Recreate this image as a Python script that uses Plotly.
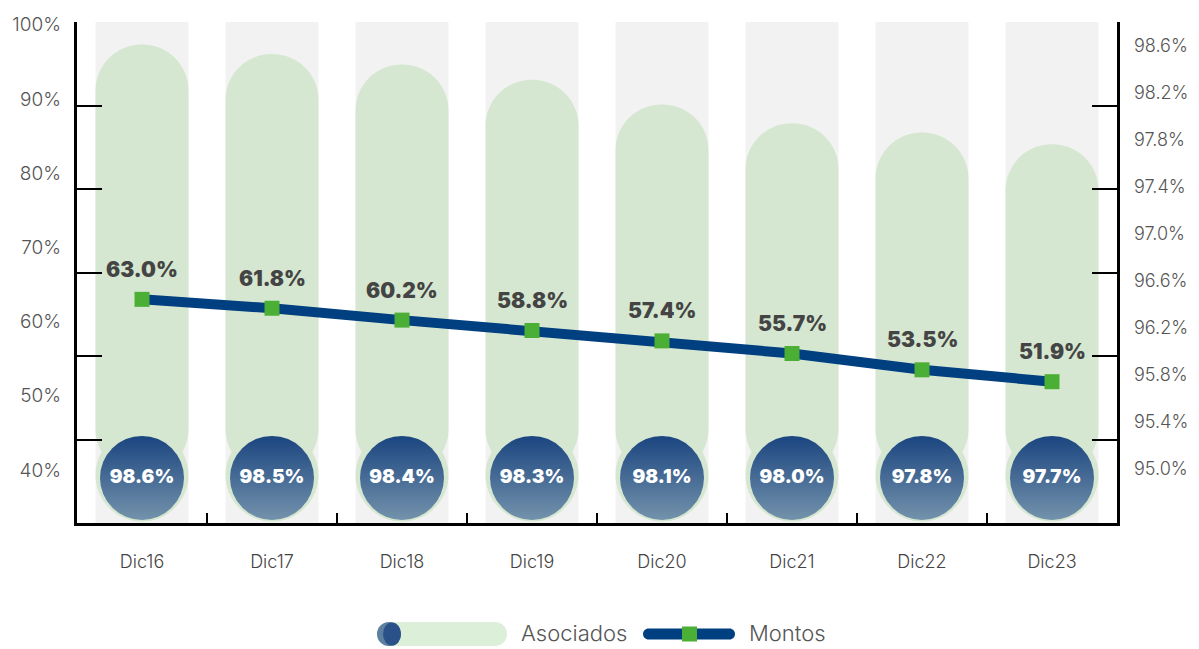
import plotly.graph_objects as go

# ---------------- data ----------------
categories = ["Dic16", "Dic17", "Dic18", "Dic19", "Dic20", "Dic21", "Dic22", "Dic23"]
asociados = [98.61, 98.53, 98.44, 98.31, 98.10, 97.94, 97.86, 97.76]
asociados_labels = ["98.6%", "98.5%", "98.4%", "98.3%", "98.1%", "98.0%", "97.8%", "97.7%"]
montos = [63.0, 61.8, 60.2, 58.8, 57.4, 55.7, 53.5, 51.9]
montos_labels = ["63.0%", "61.8%", "60.2%", "58.8%", "57.4%", "55.7%", "53.5%", "51.9%"]
left_tick_vals = [40, 50, 60, 70, 80, 90, 100]
left_tick_text = ["40%", "50%", "60%", "70%", "80%", "90%", "100%"]
right_tick_vals = [95.0, 95.4, 95.8, 96.2, 96.6, 97.0, 97.4, 97.8, 98.2, 98.6]
right_tick_text = ["95.0%", "95.4%", "95.8%", "96.2%", "96.6%", "97.0%", "97.4%", "97.8%", "98.2%", "98.6%"]

# ---------------- style ----------------
# page body has an 8px margin: figure is sized to fit the 1199x649 window
W, H = 1191, 641
ML, MR, MT, MB = 69, 82, 14, 126
PW, PH = W - ML - MR, H - MT - MB
PAGE_L, PAGE_B = 77, 523   # plot-area left / bottom in page pixels
FONT = "Inter, 'Open Sans', sans-serif"
GRAY_BG = "#f2f2f2"
PILL_GREEN = "#d5e7d0"
LEG_GREEN = "#dcefd9"
NAVY = "#003f80"
MARK_GREEN = "#4caf35"
CIRCLE_TOP = "#1b4580"
CIRCLE_BOTTOM = "#7392ab"
TXT_DARK = "#444444"
TXT_AXIS = "#555555"

DIVS = 6
LEFT_RANGE = [32.857, 100.377]
RIGHT_RANGE = [94.534, 98.802]
PILL_BASE = 94.943
CIRCLE_Y = 94.918
BAR_W = 0.715

def px_x(p):
    return (p - PAGE_L) / PW

def px_y(p):
    return (PAGE_B - p) / PH

fig = go.Figure()

# gray background columns (main axis, full height)
fig.add_trace(go.Bar(
    x=categories, y=[DIVS] * len(categories), base=0, width=BAR_W,
    marker=dict(color=GRAY_BG, line=dict(width=0)),
    yaxis="y", hoverinfo="skip", showlegend=False,
))

# green pills (right axis)
fig.add_trace(go.Bar(
    x=categories, y=[v - PILL_BASE for v in asociados], base=PILL_BASE, width=BAR_W,
    marker=dict(color=PILL_GREEN, line=dict(width=0), cornerradius="50%"),
    yaxis="y2", name="Asociados", showlegend=False, hoverinfo="skip",
))
fig.add_trace(go.Scatter(
    x=categories, y=[PILL_BASE] * len(categories), mode="markers",
    marker=dict(size=93, color=PILL_GREEN, line=dict(width=0)),
    yaxis="y2", showlegend=False, hoverinfo="skip", cliponaxis=False,
))
# gradient circles with labels
fig.add_trace(go.Scatter(
    x=categories, y=[CIRCLE_Y] * len(categories), mode="markers+text",
    marker=dict(size=84, color=CIRCLE_TOP, line=dict(width=0),
                gradient=dict(type="vertical", color=CIRCLE_BOTTOM)),
    text=asociados_labels, textposition="middle center",
    textfont=dict(family=FONT, size=19, color="white", weight=900),
    yaxis="y2", showlegend=False, hoverinfo="skip", cliponaxis=False,
))

# Montos line (left axis)
fig.add_trace(go.Scatter(
    x=categories, y=montos, mode="lines+markers",
    line=dict(color=NAVY, width=10),
    marker=dict(symbol="square", size=15, color=MARK_GREEN, line=dict(width=0)),
    yaxis="y3", name="Montos", showlegend=False, hoverinfo="skip",
))

# dummy trace for right tick axis
fig.add_trace(go.Scatter(x=[categories[0]], y=[None], yaxis="y4",
                         showlegend=False, hoverinfo="skip", mode="markers"))

annotations = []
for c, v, t in zip(categories, montos, montos_labels):
    annotations.append(dict(
        x=c, y=v, xref="x", yref="y3", text=t, showarrow=False, yshift=30,
        font=dict(family=FONT, size=21, color=TXT_DARK, weight=900),
    ))

# custom legend
k = 0.5523
def pill_path(half_len, r):
    a = half_len - r
    kr = k * r
    return (f"M {-a},{-r} L {a},{-r} "
            f"C {a + kr},{-r} {a + r},{-kr} {a + r},0 "
            f"C {a + r},{kr} {a + kr},{r} {a},{r} "
            f"L {-a},{r} "
            f"C {-a - kr},{r} {-a - r},{kr} {-a - r},0 "
            f"C {-a - r},{-kr} {-a - kr},{-r} {-a},{-r} Z")

LEG_Y = 634
shapes = [
    dict(type="path", xref="paper", yref="paper", xsizemode="pixel", ysizemode="pixel",
         xanchor=px_x(442), yanchor=px_y(LEG_Y), path=pill_path(65, 12),
         fillcolor=LEG_GREEN, line=dict(width=0), layer="above"),
    dict(type="circle", xref="paper", yref="paper", xsizemode="pixel", ysizemode="pixel",
         xanchor=px_x(389), yanchor=px_y(LEG_Y), x0=-12, x1=12, y0=-12, y1=12,
         fillcolor="#5d7fa0", line=dict(width=0), layer="above"),
    dict(type="circle", xref="paper", yref="paper", xsizemode="pixel", ysizemode="pixel",
         xanchor=px_x(392), yanchor=px_y(LEG_Y), x0=-9, x1=9, y0=-11.5, y1=11.5,
         fillcolor="#2a5288", line=dict(width=0), layer="above"),
    dict(type="path", xref="paper", yref="paper", xsizemode="pixel", ysizemode="pixel",
         xanchor=px_x(689), yanchor=px_y(LEG_Y), path=pill_path(46, 5.5),
         fillcolor=NAVY, line=dict(width=0), layer="above"),
    dict(type="rect", xref="paper", yref="paper", xsizemode="pixel", ysizemode="pixel",
         xanchor=px_x(689.5), yanchor=px_y(LEG_Y), x0=-7.5, x1=7.5, y0=-7.5, y1=7.5,
         fillcolor=MARK_GREEN, line=dict(width=0), layer="above"),
]
annotations += [
    dict(x=px_x(519), y=px_y(LEG_Y - 1), xref="paper", yref="paper", text="Asociados",
         showarrow=False, xanchor="left", yanchor="middle",
         font=dict(family=FONT, size=22, color=TXT_AXIS, weight=300)),
    dict(x=px_x(747), y=px_y(LEG_Y - 1), xref="paper", yref="paper", text="Montos",
         showarrow=False, xanchor="left", yanchor="middle",
         font=dict(family=FONT, size=22, color=TXT_AXIS, weight=300)),
]

axis_font = dict(family=FONT, size=18, color=TXT_AXIS, weight=300)

fig.update_layout(
    width=W, height=H,
    margin=dict(l=ML, r=MR, t=MT, b=MB, pad=0, autoexpand=False),
    paper_bgcolor="white", plot_bgcolor="white",
    barmode="overlay",
    showlegend=False,
    font=dict(family=FONT),
    xaxis=dict(
        type="category", categoryorder="array", categoryarray=categories,
        range=[-0.5, len(categories) - 0.5],
        showline=True, linecolor="black", linewidth=2.5,
        ticks="inside", tickson="boundaries", ticklen=10, tickwidth=2, tickcolor="black",
        showgrid=False, zeroline=False, automargin=False,
        tickfont=dict(family=FONT, size=18, color=TXT_DARK, weight=300),
        ticklabelstandoff=21,
    ),
    yaxis=dict(
        range=[0, DIVS], tickvals=list(range(DIVS + 1)),
        ticks="inside", ticklen=25, tickwidth=2, tickcolor="black",
        showline=True, linecolor="black", linewidth=2.5, automargin=False,
        showticklabels=False, showgrid=False, zeroline=False,
    ),
    yaxis2=dict(
        overlaying="y", side="right", range=RIGHT_RANGE,
        tickvals=right_tick_vals, ticktext=right_tick_text,
        ticks="", showline=False, showgrid=False, zeroline=False, automargin=False,
        tickfont=axis_font, ticklabelstandoff=16,
    ),
    yaxis3=dict(
        overlaying="y", side="left", range=LEFT_RANGE,
        tickvals=left_tick_vals, ticktext=left_tick_text,
        ticks="", showline=False, showgrid=False, zeroline=False, automargin=False,
        tickfont=dict(family=FONT, size=19, color=TXT_AXIS, weight=300), ticklabelstandoff=15,
    ),
    yaxis4=dict(
        overlaying="y", side="right", range=[0, DIVS], tickvals=list(range(DIVS + 1)),
        ticks="inside", ticklen=25, tickwidth=2, tickcolor="black",
        showline=True, linecolor="black", linewidth=2.5, automargin=False,
        showticklabels=False, showgrid=False, zeroline=False,
    ),
    shapes=shapes,
    annotations=annotations,
)

fig.write_html("out.html")
